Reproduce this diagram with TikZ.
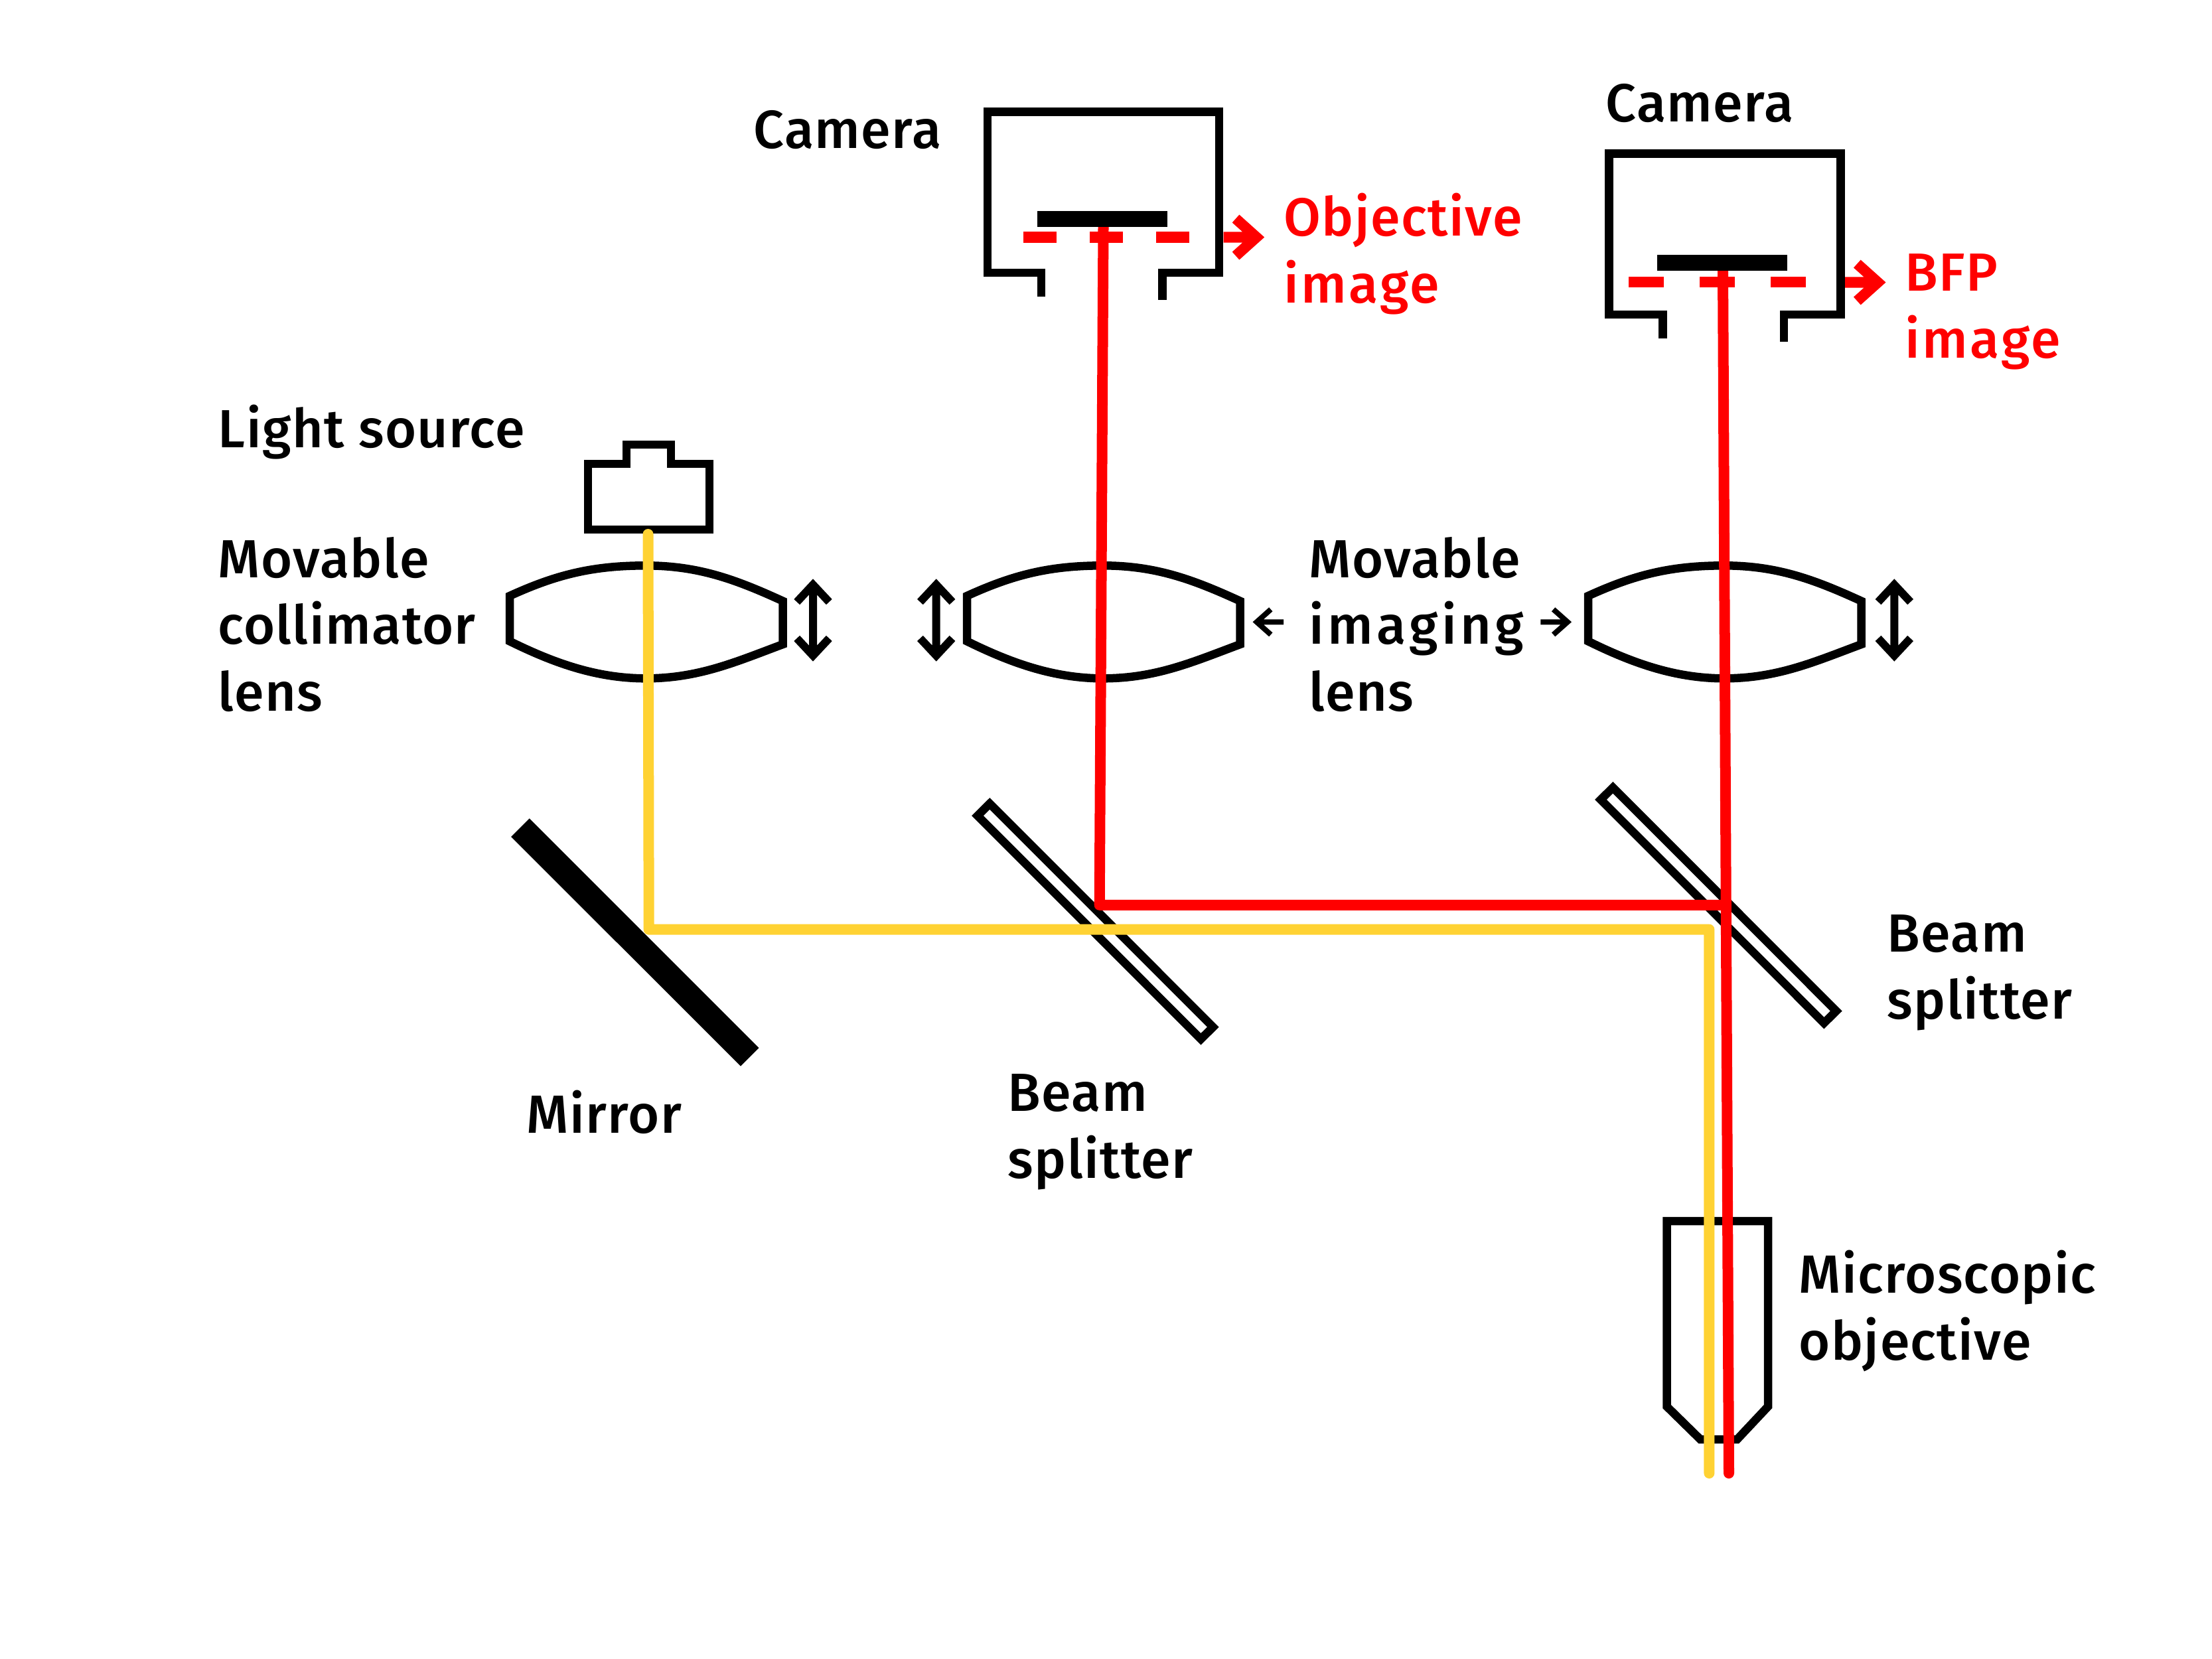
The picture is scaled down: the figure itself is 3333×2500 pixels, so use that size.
\documentclass[tikz,border=0pt]{standalone}
\usepackage{fontspec}
\setmainfont[LetterSpace=1.7]{Fira Sans Medium}
\usepackage{tikz}

\definecolor{beamred}{rgb}{1, 0, 0}
\definecolor{beamyellow}{rgb}{1, 0.824, 0.2}

\newcommand{\spaced}[2]{{\addfontfeature{LetterSpace=#1}#2}}

\tikzset{
	part/.style = {draw, line width = 0.125cm, miter limit = 10},
	ray/.style = {line width = 0.16cm, line cap = round, line join = round},
	redray/.style = {ray, draw = beamred},
	yellowray/.style = {ray, draw = beamyellow},
	imagebar/.style = {draw = beamred, line width = 0.165cm},
	imagearrow/.style = {draw = beamred, line width = 0.16cm, miter limit = 10},
	movearrow/.style = {draw, line width = 0.12cm, miter limit = 10},
	smallarrow/.style = {draw, line width = 0.08cm, miter limit = 10},
	label/.style = {anchor = base west, inner sep = 0, align = left, font = \fontsize{23}{28.45}\selectfont},
	redlabel/.style = {label, text = beamred}
}

\begin{document}
\begin{tikzpicture}[x = 0.01cm, y = -0.01cm]
		\useasboundingbox (0,0) rectangle (3333,2500);

		\def\lenspath{ .. controls +(70,-32) and +(-80,0) .. ++(205,-45.7) .. controls +(80,0) and +(-70,-32) .. ++(206.5,53.4) -- ++(0,65.3) .. controls +(-70,26) and +(80,0) .. ++(-206.5,51.3) .. controls +(-75,0) and +(65,32) .. ++(-205,-56) -- cycle}
		\def\splitterpath{ -- ++(18.3,-18.2) -- ++(336.5,336.7) -- ++(-18.4,18.1) -- cycle}
		\def\campath{ -- ++(0,-36) -- ++(-81,0) -- ++(0,-242.3) -- ++(349,0) -- ++(0,242.3) -- ++(-85.5,0) -- ++(0,40.5)}
		\def\movepath{ +(-24.3,-27.4) -- +(0,-53.4) -- +(24.3,-27.4) +(0,-53.4) -- +(0,53.4) +(-24.3,27.4) -- +(0,53.4) -- +(24.3,27.4)}
		\def\imagepath{ +(0,0) -- +(49.5,0) +(18.3,-28) -- +(49.5,0) -- +(18.3,28)}
		
		% lenses
		\draw[part] (768,898) \lenspath;
		\draw[part] (1457,898) \lenspath;
		\draw[part] (2393,898) \lenspath;

		\draw[movearrow] (1225,934.5) \movepath;
		\draw[movearrow] (1410.7,934.5) \movepath;
		\draw[movearrow] (2854.3,934.5) \movepath;

		\draw[smallarrow] (1934,937.3) -- (1893.5,937.3) (1914.8,918.3) -- (1893.5,937.3) -- (1914.8,956.3);
		\draw[smallarrow] (2321.4,937.3) -- (2362,937.3) (2340.6,918.3) -- (2362,937.3) -- (2340.6,956.3);

		% beam splitters
		\draw[part] (1473,1229.2) \splitterpath;
		\draw[part] (2412,1205) \splitterpath;

		% cameras
		\draw[part] (1569,447) \campath;
		\draw[part] (2505.5,510) \campath;

		% light source
		\draw[part] (886,798) -- (886,699) -- (944,699) -- (944,670) -- (1011,670) -- (1011,699) -- (1069,699) -- (1069,798) -- cycle;

		% microscopic objective
		\draw[part] (2511.5,1840) -- (2664,1840) -- (2664,2119.5) -- (2617.5,2169) -- (2562,2169) -- (2511.5,2119.5) -- cycle;

		% beams
		\coordinate (lampout) at (976.5,805);
		\coordinate (mirrorhit) at (977.7,1400.7);
		\coordinate (yellowturn) at (2575.4,1400.7);
		\coordinate (yellowend) at (2575.4,2220);
		\coordinate (sensorA) at (1662.5,342);
		\coordinate (redturn) at (1656.7,1363.8);
		\coordinate (redjoin) at (2600.7,1363.8);
		\coordinate (sensorB) at (2596,408);
		\coordinate (redend) at (2605,2220);

		\draw[yellowray] (lampout) -- (mirrorhit) -- (yellowturn) -- (yellowend);
		\draw[redray] (sensorA) -- (redturn) -- (redjoin);
		\draw[redray] (sensorB) -- (redend);

		% image planes
		\foreach \x in {1541.7,1642,1742}
			\draw[imagebar] (\x,357.7) -- ++(50,0);
		\foreach \x in {2454,2561,2668}
			\draw[imagebar] (\x,425) -- ++(53,0);
		\draw[imagearrow] (1843.7,357.5) \imagepath;
		\draw[imagearrow] (2780,425.5) \imagepath;

		% sensors
		\fill (1563,318) rectangle (1759,341.7);
		\fill (2497,384) rectangle (2693,408);

		% mirror
		\draw[line width = 0.39cm] (784,1247.2) -- (1129.7,1592.8);

		% labels
		\node[label] (cameraA) at (1135,224) {Camera};
		\node[label] (cameraB) at (2419,183) {Camera};
		\node[redlabel] (objimage) at (1934,456) {Objective\\\spaced{4}{image}};
		\node[redlabel] (bfpimage) at (2870,539) {BFP\\\spaced{4}{image}};
		\node[label] (source) at (328,674) {Light source};
		\node[label] (collimator) at (328,1071) {Movable\\collimator\\lens};
		\node[label] (imaging) at (1972,1071) {Movable\\\spaced{6.5}{imaging}\\lens};
		\node[label] (mirror) at (793,1707) {Mirror};
		\node[label] (splitterA) at (1518,1775) {Beam\\splitter};
		\node[label] (splitterB) at (2843,1535) {Beam\\splitter};
		\node[label] (objective) at (2710,2049) {Microscopic\\objective};
	\end{tikzpicture}
\end{document}
